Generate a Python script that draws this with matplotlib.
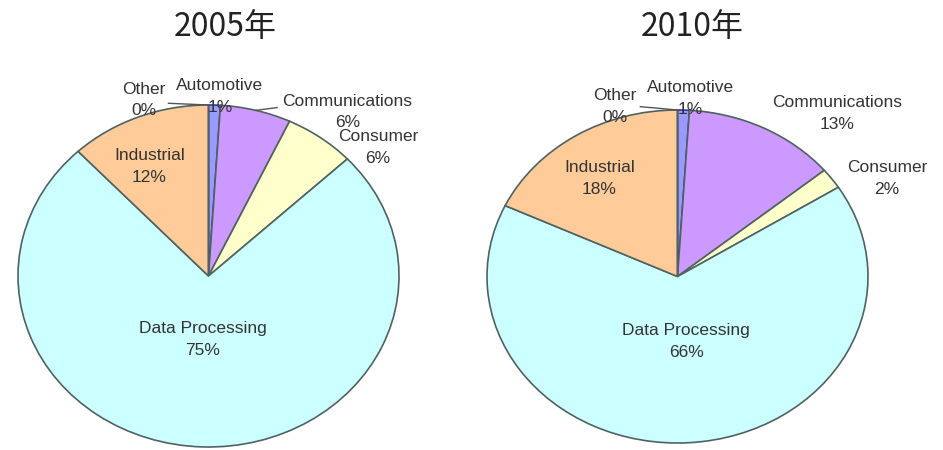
import matplotlib
matplotlib.use("Agg")
import matplotlib.pyplot as plt
import numpy as np

plt.rcParams['font.family'] = ['Liberation Sans', 'Noto Sans CJK SC', 'DejaVu Sans']

# data
segments = ["Automotive", "Communications", "Consumer", "Data Processing", "Industrial", "Other"]
share_2005 = [1, 6, 6, 75, 12, 0]
share_2010 = [1, 13, 2, 66, 18, 0]
titles = ["2005年", "2010年"]

colors = ["#9999FF", "#CC99FF", "#FFFFCC", "#CCFFFF", "#FFCC99", "#993366"]
text_color = "#333333"

# label centres in pie units (x by horizontal radius, y by vertical radius)
label_pos_2005 = [(0.06, 1.05), (0.73, 0.96), (0.89, 0.75), (-0.03, -0.37), (-0.31, 0.64), (-0.34, 1.03)]
label_pos_2010 = [(0.066, 1.07), (0.84, 0.98), (1.10, 0.59), (0.045, -0.39), (-0.41, 0.59), (-0.33, 1.02)]
# leader lines: segment index -> end point near the label
leaders_2005 = {5: (-0.21, 1.01), 1: (0.36, 0.985)}
leaders_2010 = {5: (-0.195, 1.02)}

W, H = 943, 450
fig = plt.figure(figsize=(W / 100, H / 100), dpi=100)

# pie bounding boxes in pixels: left, top, right, bottom
boxes = [(18, 105, 399, 447), (487, 110, 868, 443)]
title_x = [225, 692]


def draw_pie(box, values, label_pos, leaders, title, tx):
    l, t, r, b = box
    ax = fig.add_axes([l / W, 1 - b / H, (r - l) / W, (b - t) / H])
    wedges, _ = ax.pie(values, colors=colors, startangle=90, counterclock=False,
                       wedgeprops=dict(edgecolor="#4f6262", linewidth=1.2))
    wedges[0].set_edgecolor("#333399")
    ax.set_aspect("auto")
    ax.set_xlim(-1, 1)
    ax.set_ylim(-1, 1)
    ax.axis("off")

    for i, name in enumerate(segments):
        x, y = label_pos[i]
        ax.text(x, y, "%s\n%d%%" % (name, values[i]), ha="center", va="center",
                fontsize=12.5, color=text_color, linespacing=1.55, clip_on=False)

    for i, (lx, ly) in leaders.items():
        w = wedges[i]
        mid = np.deg2rad((w.theta1 + w.theta2) / 2)
        ax.plot([np.cos(mid), lx], [np.sin(mid), ly], color="#555555",
                linewidth=1.0, clip_on=False)

    fig.text(tx / W, 1 - 27 / H, title, ha="center", va="center", fontsize=23,
             color="#222222", family=["Noto Sans CJK SC", "DejaVu Sans"])


draw_pie(boxes[0], share_2005, label_pos_2005, leaders_2005, titles[0], title_x[0])
draw_pie(boxes[1], share_2010, label_pos_2010, leaders_2010, titles[1], title_x[1])

fig.savefig("out.png", dpi=100, facecolor="white")
